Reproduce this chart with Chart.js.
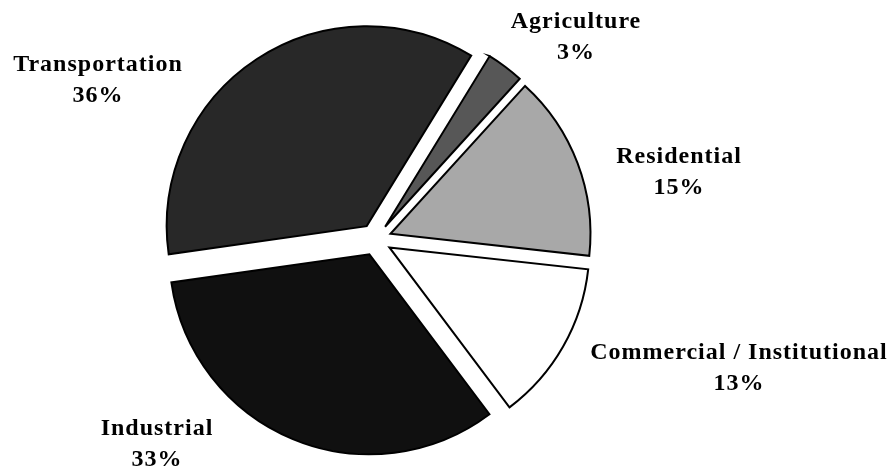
<!DOCTYPE html>
<html>
<head>
<meta charset="utf-8">
<script src="https://cdn.jsdelivr.net/npm/chart.js@4/dist/chart.umd.min.js"></script>
<style>
  html, body { margin: 0; padding: 0; background: #fff; }
  #wrap { width: 889px; height: 472px; }
</style>
</head>
<body>
<div id="wrap"><canvas id="pie" width="889" height="472"></canvas></div>
<script>
// Energy use by sector (percent of total)
const sectors = ['Agriculture', 'Residential', 'Commercial / Institutional', 'Industrial', 'Transportation'];
const shares = [3, 15, 13, 33, 36];

// Fill colours for each sector, in the same order
const fills = ['#575757', '#a8a8a8', '#ffffff', '#101010', '#282828'];

// Label anchors (centre of each two-line label) relative to the pie centre, in px
const labelOffsets = [[200, -204], [303, -69], [363, 127], [-219, 203], [-278, -161]];

const EXPLODE = 16;      // how far each slice is pulled out from the centre
const LINE_PITCH = 31;   // distance between the two label lines

// Pulls every slice outward along its own bisector
const explodePlugin = {
  id: 'explode',
  afterDatasetUpdate(chart, args) {
    args.meta.data.forEach(arc => {
      const mid = (arc.startAngle + arc.endAngle) / 2;
      arc.x += Math.cos(mid) * EXPLODE;
      arc.y += Math.sin(mid) * EXPLODE;
    });
  }
};

// Writes the sector name and its share beside each slice
const sectorLabels = {
  id: 'sectorLabels',
  afterDatasetsDraw(chart) {
    const ctx = chart.ctx;
    const area = chart.chartArea;
    const cx = (area.left + area.right) / 2;
    const cy = (area.top + area.bottom) / 2;
    ctx.save();
    ctx.fillStyle = '#000';
    ctx.font = 'bold 24px "Liberation Serif", "Times New Roman", serif';
    ctx.letterSpacing = '1px';
    ctx.textAlign = 'center';
    ctx.textBaseline = 'alphabetic';
    chart.data.labels.forEach((name, i) => {
      const [dx, dy] = labelOffsets[i];
      const x = cx + dx + 0.5;
      const yTop = cy + dy - (LINE_PITCH - 16) / 2;
      ctx.fillText(name, x, yTop);
      ctx.fillText(chart.data.datasets[0].data[i] + '%', x, yTop + LINE_PITCH);
    });
    ctx.restore();
  }
};

new Chart(document.getElementById('pie'), {
  type: 'pie',
  data: {
    labels: sectors,
    datasets: [{
      data: shares,
      backgroundColor: fills,
      borderColor: '#000',
      borderWidth: 2,
      borderJoinStyle: 'miter',
      radius: 200
    }]
  },
  options: {
    responsive: false,
    animation: false,
    events: [],
    rotation: 31.5,
    layout: { padding: { left: 0, right: 138, top: 7, bottom: 0 } },
    plugins: {
      legend: { display: false },
      tooltip: { enabled: false }
    }
  },
  plugins: [explodePlugin, sectorLabels]
});
</script>
</body>
</html>
